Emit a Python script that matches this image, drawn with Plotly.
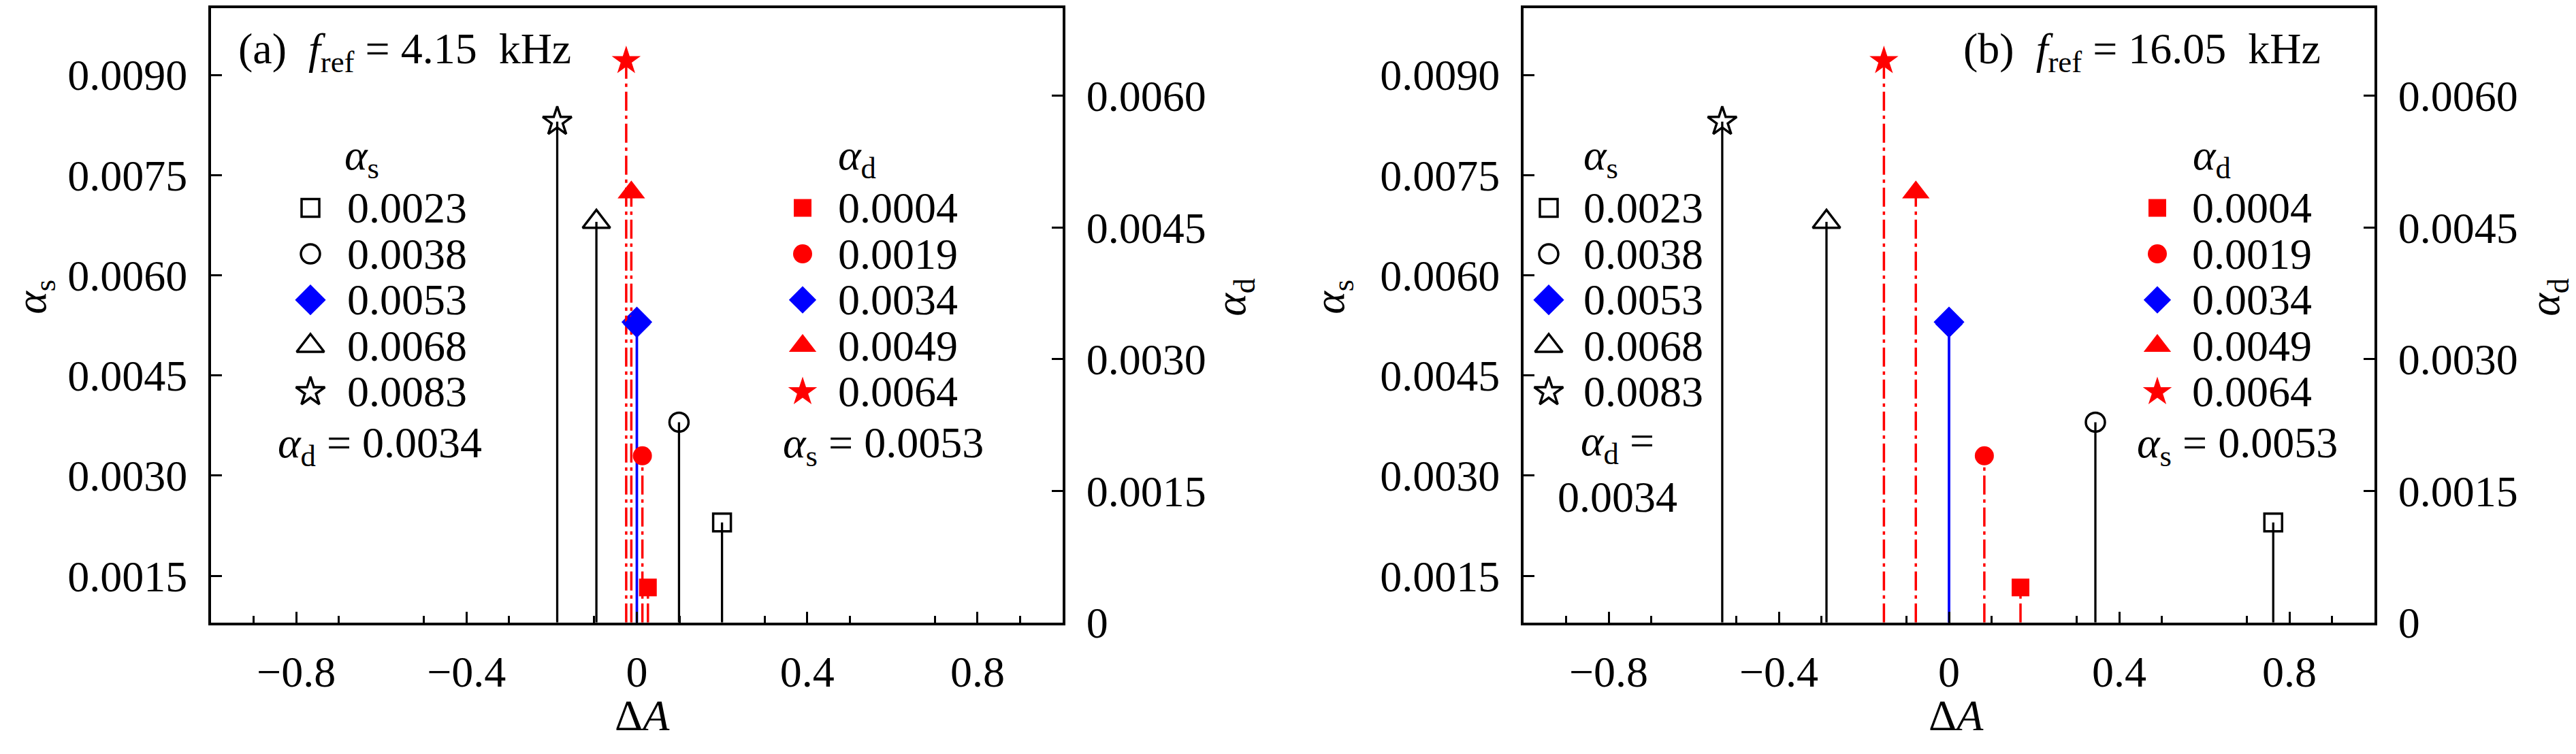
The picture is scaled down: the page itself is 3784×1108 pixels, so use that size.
import plotly.graph_objects as go

# ---------------- data ----------------
alpha_s_values = [0.0023, 0.0038, 0.0053, 0.0068, 0.0083]
alpha_d_values = [0.0004, 0.0019, 0.0034, 0.0049, 0.0064]
alpha_s_labels = ["0.0023", "0.0038", "0.0053", "0.0068", "0.0083"]
alpha_d_labels = ["0.0004", "0.0019", "0.0034", "0.0049", "0.0064"]

# panel (a): f_ref = 4.15 kHz
dA_s_a = [0.200, 0.099, 0.000, -0.095, -0.187]   # alpha_s varied, alpha_d = 0.0034
dA_d_a = [0.026, 0.013, 0.000, -0.013, -0.025]   # alpha_d varied, alpha_s = 0.0053
# panel (b): f_ref = 16.05 kHz
dA_s_b = [0.762, 0.344, 0.000, -0.288, -0.533]
dA_d_b = [0.168, 0.083, 0.000, -0.078, -0.153]

NB = "\u00a0"
panel_titles = ["(a)" + NB * 2 + "<i>f</i><sub>ref</sub>" + NB + "=" + NB + "4.15" + NB * 2 + "kHz",
                "(b)" + NB * 2 + "<i>f</i><sub>ref</sub>" + NB + "=" + NB + "16.05" + NB * 2 + "kHz"]
fixed_alpha_d = "0.0034"
fixed_alpha_s = "0.0053"

x_label_vals = [-0.8, -0.4, 0.0, 0.4, 0.8]
x_label_text = ["\u22120.8", "\u22120.4", "0", "0.4", "0.8"]
x_major_unlabeled = [-0.6, -0.2, 0.2, 0.6]
x_minorvals = [-0.9, -0.7, -0.5, -0.3, -0.1, 0.1, 0.3, 0.5, 0.7, 0.9]
ys_tickvals = [0.0015, 0.0030, 0.0045, 0.0060, 0.0075, 0.0090]
ys_ticktext = ["0.0015", "0.0030", "0.0045", "0.0060", "0.0075", "0.0090"]
yd_tickvals = [0.0, 0.0015, 0.0030, 0.0045, 0.0060]
yd_ticktext = ["0", "0.0015", "0.0030", "0.0045", "0.0060"]

# ---------------- styles / layout ----------------
W, H = 3784, 1108
FONT = "Liberation Serif"
FS = 64
X_RANGE = [-1.0, 1.0]
YS_RANGE = [0.0008, 0.0100]
YD_RANGE = [0.0, 0.0070]

s_symbols = ["square-open", "circle-open", "diamond", "triangle-up-open", "star-open"]
s_colors = ["black", "black", "#0000ff", "black", "black"]
d_symbols = ["square", "circle", "diamond", "triangle-up", "star"]
d_colors = ["#ff0000", "#ff0000", "#0000ff", "#ff0000", "#ff0000"]
m_sizes = [26, 28, 31, 35, 32]
DASHDOT = "28px,7px,5px,7px"
TICKFONT = dict(family=FONT, size=FS, color="black")

TOP, BOTTOM = 2, 937
panels = [
    dict(x0=302, x1=1553, xa="x", ys="y", yd="y2", ysname="yaxis", ydname="yaxis2", xname="xaxis",
         xov="xaxis4", dA_s=dA_s_a, dA_d=dA_d_a,
         title_x=340, s_head=523, s_key=448, s_text=500,
         d_head=1251, d_key=1171, d_text=1221,
         fixed_d=(550, 668, "<i>α</i><sub>d</sub>" + NB + "=" + NB + fixed_alpha_d),
         fixed_s=(1289, 668), ltitle=42, rtitle=1804, xtitle=935),
    dict(x0=2230, x1=3480, xa="x2", ys="y3", yd="y4", ysname="yaxis3", ydname="yaxis4", xname="xaxis2",
         xov="xaxis5", dA_s=dA_s_b, dA_d=dA_d_b,
         title_x=2874, s_head=2343, s_key=2267, s_text=2316,
         d_head=3241, d_key=3161, d_text=3210,
         fixed_d=(2368, 703, "<i>α</i><sub>d</sub>" + NB + "=<br>" + fixed_alpha_d),
         fixed_s=(3278, 668), ltitle=1949, rtitle=3734, xtitle=2865),
]
HEAD_Y = 230
ROWS_Y = [306, 376, 446, 516, 586]

fig = go.Figure()
annotations = []
layout = dict(
    width=W, height=H, margin=dict(l=0, r=0, t=0, b=0),
    paper_bgcolor="white", plot_bgcolor="rgba(0,0,0,0)",
    showlegend=False,
    font=dict(family=FONT, size=FS, color="black"),
)

ydom = [(H - BOTTOM) / H, (H - TOP) / H]
for i, p in enumerate(panels):
    xdom = [p["x0"] / W, p["x1"] / W]
    layout[p["xname"]] = dict(
        domain=xdom, range=X_RANGE, anchor=p["ys"],
        tickvals=x_label_vals, ticktext=x_label_text,
        ticks="inside", ticklen=16, tickwidth=3, tickcolor="black",
        minor=dict(tickvals=x_minorvals, ticks="inside", ticklen=10, tickwidth=3,
                   tickcolor="black", showgrid=False),
        showline=True, linewidth=4, linecolor="black", mirror=True,
        showgrid=False, zeroline=False, ticklabelstandoff=13, tickfont=TICKFONT,
    )
    # unlabeled major ticks (every 0.2) on an overlaid x axis
    layout[p["xov"]] = dict(
        range=X_RANGE, overlaying=p["xa"], anchor=p["ys"], side="bottom",
        tickvals=x_major_unlabeled, showticklabels=False,
        ticks="inside", ticklen=16, tickwidth=3, tickcolor="black",
        showline=False, showgrid=False, zeroline=False,
    )
    layout[p["ysname"]] = dict(
        domain=ydom, range=YS_RANGE, anchor=p["xa"],
        tickvals=ys_tickvals, ticktext=ys_ticktext,
        ticks="inside", ticklen=16, tickwidth=3, tickcolor="black",
        showline=True, linewidth=4, linecolor="black",
        showgrid=False, zeroline=False, ticklabelstandoff=18, tickfont=TICKFONT,
    )
    layout[p["ydname"]] = dict(
        range=YD_RANGE, anchor=p["xa"], overlaying=p["ys"], side="right",
        tickvals=yd_tickvals, ticktext=yd_ticktext,
        ticks="inside", ticklen=16, tickwidth=3, tickcolor="black",
        showline=True, linewidth=4, linecolor="black",
        showgrid=False, zeroline=False, ticklabelstandoff=18, tickfont=TICKFONT,
    )

    # alpha_d series (red, right axis): stems
    for k in range(len(alpha_d_values)):
        xv = p["dA_d"][k]
        col = d_colors[k]
        fig.add_trace(go.Scatter(
            x=[xv, xv], y=[YD_RANGE[0], alpha_d_values[k]], xaxis=p["xa"], yaxis=p["yd"],
            mode="lines", line=dict(color=col, width=3.5,
                                    dash="solid" if col != "#ff0000" else DASHDOT),
            hoverinfo="skip"))
    # alpha_s series (black, left axis): stems
    for k in range(len(alpha_s_values)):
        xv = p["dA_s"][k]
        fig.add_trace(go.Scatter(
            x=[xv, xv], y=[YS_RANGE[0], alpha_s_values[k]], xaxis=p["xa"], yaxis=p["ys"],
            mode="lines", line=dict(color=s_colors[k], width=3.3), hoverinfo="skip"))
    # markers
    fig.add_trace(go.Scatter(
        x=p["dA_d"], y=alpha_d_values, xaxis=p["xa"], yaxis=p["yd"], mode="markers",
        marker=dict(symbol=d_symbols, color=d_colors, size=m_sizes, opacity=1,
                    line=dict(width=0)),
        cliponaxis=False))
    fig.add_trace(go.Scatter(
        x=p["dA_s"], y=alpha_s_values, xaxis=p["xa"], yaxis=p["ys"], mode="markers",
        marker=dict(symbol=s_symbols, color=s_colors, size=m_sizes, opacity=1,
                    line=dict(width=3.5, color=s_colors)),
        cliponaxis=False))

    # legend keys (layout positions on the pixel overlay axis)
    fig.add_trace(go.Scatter(
        x=[p["s_key"]] * 5, y=ROWS_Y, xaxis="x3", yaxis="y5", mode="markers",
        marker=dict(symbol=s_symbols, color=s_colors, size=m_sizes, opacity=1,
                    line=dict(width=3.5, color=s_colors)), cliponaxis=False))
    fig.add_trace(go.Scatter(
        x=[p["d_key"]] * 5, y=ROWS_Y, xaxis="x3", yaxis="y5", mode="markers",
        marker=dict(symbol=d_symbols, color=d_colors, size=m_sizes, opacity=1,
                    line=dict(width=0)), cliponaxis=False))

    def ann(x, y, text, xanchor="center", angle=0):
        annotations.append(dict(x=x, y=y, xref="x3", yref="y5", text=text, showarrow=False,
                                xanchor=xanchor, yanchor="middle", textangle=angle,
                                font=dict(family=FONT, size=FS, color="black")))

    ann(p["title_x"], 68, panel_titles[i], xanchor="left")
    ann(p["s_head"], HEAD_Y, "<i>α</i><sub>s</sub>")
    ann(p["d_head"], HEAD_Y, "<i>α</i><sub>d</sub>")
    for k in range(5):
        ann(p["s_text"], ROWS_Y[k], alpha_s_labels[k], xanchor="left")
        ann(p["d_text"], ROWS_Y[k], alpha_d_labels[k], xanchor="left")
    fx, fy, ft = p["fixed_d"]
    ann(fx, fy, ft)
    ann(p["fixed_s"][0], p["fixed_s"][1],
        "<i>α</i><sub>s</sub>" + NB + "=" + NB + fixed_alpha_s)
    ann(p["ltitle"], 442, "<i>α</i><sub>s</sub>", angle=-90)
    ann(p["rtitle"], 442, "<i>α</i><sub>d</sub>", angle=-90)
    ann(p["xtitle"], 1078, "Δ<i>A</i>")

layout["xaxis3"] = dict(domain=[0, 1], range=[0, W], visible=False, anchor="y5", fixedrange=True)
layout["yaxis5"] = dict(domain=[0, 1], range=[H, 0], visible=False, anchor="x3", fixedrange=True)
layout["annotations"] = annotations
fig.update_layout(**layout)
fig.write_html("out.html")
